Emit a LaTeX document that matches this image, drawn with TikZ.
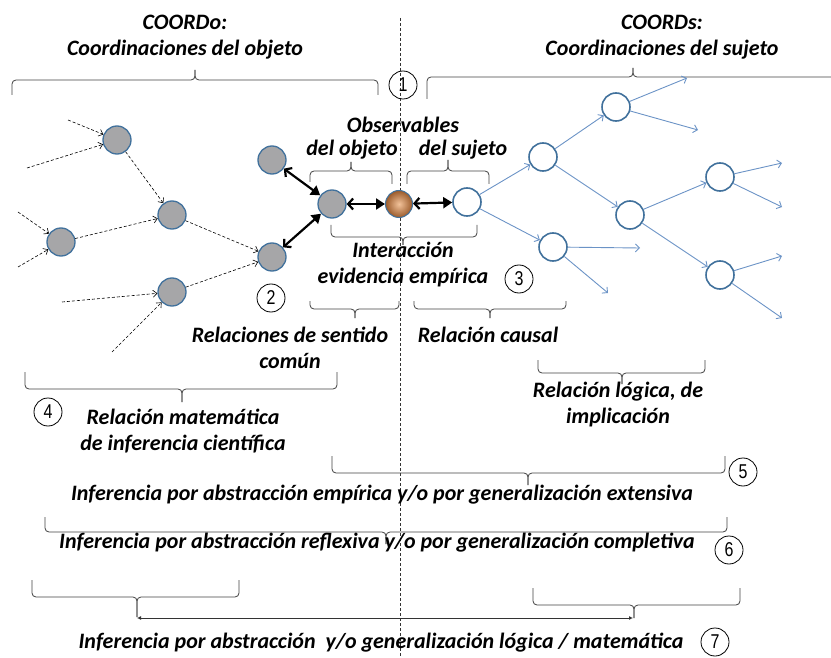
\documentclass[tikz,border=0pt]{standalone}
\usepackage{fontspec}
\setmainfont{Carlito}
\newfontfamily\numfont[FakeStretch=0.8]{Liberation Sans}
\usetikzlibrary{arrows.meta}
\definecolor{nodeblue}{HTML}{41719C}
\definecolor{linkblue}{HTML}{6B93C6}
\definecolor{nodegray}{HTML}{A6A6A8}
\definecolor{evlight}{HTML}{F2C29A}
\definecolor{evdark}{HTML}{9A5A2A}

\begin{document}
\begin{tikzpicture}[
  x=1pt, y=-1pt,
  lbl/.style={font=\fontsize{22}{26}\selectfont\bfseries\itshape, align=center, inner sep=0pt},
  num/.style={draw, circle, line width=0.8pt, minimum size=28pt, inner sep=0pt,
    font=\numfont\fontsize{20}{20}\selectfont},
  objnode/.style={draw=nodeblue, line width=1.3pt, fill=nodegray, circle, minimum size=28pt, inner sep=0pt},
  subjnode/.style={draw=nodeblue, line width=1.6pt, fill=white, circle, minimum size=28pt, inner sep=0pt},
  evnode/.style={draw=nodeblue, line width=1pt, circle, minimum size=27pt, inner sep=0pt,
    inner color=evlight, outer color=evdark},
  dasharr/.style={->, >={Straight Barb[length=4pt,width=7pt]}, dash pattern=on 3pt off 2pt, line width=0.6pt},
  bluearr/.style={->, >={Straight Barb[length=4pt,width=8pt]}, linkblue, line width=0.9pt},
  interarr/.style={{Straight Barb[length=5pt,width=11pt]}-{Triangle[length=9pt,width=11pt]}, line width=2.2pt},
  brace/.style={draw=black!75, line width=0.8pt, rounded corners=4pt}
]
  \useasboundingbox (0,0) rectangle (831,658);

  % dashed axis object / subject
  \coordinate (axtop) at (400,18);
  \coordinate (axbot) at (400,658);
  \draw[dash pattern=on 3pt off 2pt, line width=0.6pt, black!80] (axtop) -- (axbot);

  % headings
  \node[lbl] (coordo) at (185,37) {COORDo:\\Coordinaciones del objeto};
  \node[lbl] (coords) at (662,37) {COORDs:\\Coordinaciones del sujeto};
  \draw[brace] (12,95) |- (195,80) -- (195,70);
  \draw[brace] (378,95) |- (195,80) -- (195,70);
  \draw[brace] (427,99) |- (633,77) -- (633,68);
  \draw[brace] (835,77) -- (633,77) -- (633,68);

  % object side
  \node[objnode] (g1) at (117,140) {};
  \node[objnode] (g2) at (172,215) {};
  \node[objnode] (g3) at (61,242) {};
  \node[objnode] (g4) at (172,292) {};
  \node[objnode] (g5) at (272,160) {};
  \node[objnode] (g6) at (272,257) {};
  \node[objnode] (obj) at (332,204) {};
  \node[evnode] (ev) at (399,204) {};

  \coordinate (in1) at (68,120);
  \coordinate (in2) at (27,168);
  \coordinate (in3) at (18,212);
  \coordinate (in4) at (18,267);
  \coordinate (in5) at (62,302);
  \coordinate (in6) at (112,352);
  \draw[dasharr] (in1) -- (g1);
  \draw[dasharr] (in2) -- (g1);
  \draw[dasharr] (in3) -- (g3);
  \draw[dasharr] (in4) -- (g3);
  \draw[dasharr] (in5) -- (g4);
  \draw[dasharr] (in6) -- (g4);
  \draw[dasharr] (g1) -- (g2);
  \draw[dasharr] (g3) -- (g2);
  \draw[dasharr] (g2) -- (g6);
  \draw[dasharr] (g4) -- (g6);

  % subject side
  \node[subjnode] (w1) at (467,202) {};
  \node[subjnode] (w2) at (543,157) {};
  \node[subjnode] (w3) at (616,107) {};
  \node[subjnode] (w4) at (630,215) {};
  \node[subjnode] (w5) at (553,247) {};
  \node[subjnode] (w6) at (720,177) {};
  \node[subjnode] (w7) at (720,275) {};

  \coordinate (out1) at (687,78);
  \coordinate (out2) at (698,130);
  \coordinate (out3) at (640,248);
  \coordinate (out4) at (608,293);
  \coordinate (out5) at (782,163);
  \coordinate (out6) at (782,207);
  \coordinate (out7) at (782,256);
  \coordinate (out8) at (782,318);
  \draw[bluearr] (w1) -- (w2);
  \draw[bluearr] (w1) -- (w5);
  \draw[bluearr] (w2) -- (w3);
  \draw[bluearr] (w2) -- (w4);
  \draw[bluearr] (w4) -- (w6);
  \draw[bluearr] (w4) -- (w7);
  \draw[bluearr] (w3) -- (out1);
  \draw[bluearr] (w3) -- (out2);
  \draw[bluearr] (w5) -- (out3);
  \draw[bluearr] (w5) -- (out4);
  \draw[bluearr] (w6) -- (out5);
  \draw[bluearr] (w6) -- (out6);
  \draw[bluearr] (w7) -- (out7);
  \draw[bluearr] (w7) -- (out8);

  % interaction
  \draw[interarr] (g5) -- (obj);
  \draw[interarr] (g6) -- (obj);
  \draw[interarr] (obj) -- (ev);
  \draw[interarr] (ev) -- (w1);

  \node[lbl] (observ) at (403,125) {Observables};
  \node[lbl] (delobj) at (352,150) {del objeto};
  \node[lbl] (delsuj) at (463,150) {del sujeto};
  \draw[brace] (310,182) |- (351,171) -- (351,162);
  \draw[brace] (392,184) |- (351,171) -- (351,162);
  \draw[brace] (407,184) |- (448,171) -- (448,160);
  \draw[brace] (489,184) |- (448,171) -- (448,160);
  \draw[brace] (331,225) |- (403,237) -- (403,245);
  \draw[brace] (477,225) |- (403,237) -- (403,245);
  \node[lbl] (interac) at (403,265) {Interacción\\evidencia empírica};

  \node[num] (n1) at (403,85) {1};
  \node[num] (n2) at (271,298) {2};
  \node[num] (n3) at (519,279) {3};

  % relations
  \draw[brace] (310,301) |- (355,309) -- (355,318);
  \draw[brace] (399,301) |- (355,309) -- (355,318);
  \draw[brace] (414,301) |- (490,309) -- (490,318);
  \draw[brace] (566,301) |- (490,309) -- (490,318);
  \node[lbl] (sentido) at (290,348) {Relaciones de sentido\\común};
  \node[lbl] (causal) at (488,335) {Relación causal};

  \draw[brace] (25,372) |- (182,389) -- (182,402);
  \draw[brace] (337,372) |- (182,389) -- (182,402);
  \node[num] (n4) at (48,412) {4};
  \node[lbl] (matem) at (183,431) {Relación matemática\\de inferencia científica};

  \draw[brace] (538,360) |- (622,373) -- (622,384);
  \draw[brace] (705,360) |- (622,373) -- (622,384);
  \node[lbl] (logica) at (618,405) {Relación lógica, de\\implicación};

  % inferences
  \draw[brace] (332,456) |- (528,473) -- (528,485);
  \draw[brace] (725,456) |- (528,473) -- (528,485);
  \node[num] (n5) at (743,472) {5};
  \node[lbl] (inf5) at (382,495) {Inferencia por abstracción empírica y/o por generalización extensiva};

  \draw[brace] (45,517) |- (386,532) -- (386,544);
  \draw[brace] (727,517) |- (386,532) -- (386,544);
  \node[num] (n6) at (729,550) {6};
  \node[lbl] (inf6) at (377,543) {Inferencia por abstracción reflexiva y/o por generalización completiva};

  \draw[brace] (32,580) |- (137,597) -- (137,617);
  \draw[brace] (239,580) |- (137,597) -- (137,617);
  \draw[brace] (533,588) |- (634,605) -- (634,618);
  \draw[brace] (740,588) |- (634,605) -- (634,618);
  \coordinate (tip7a) at (137,618);
  \coordinate (tip7b) at (633,618);
  \draw[{Latex[length=4pt,width=4pt]}-{Latex[length=4pt,width=4pt]}, line width=0.8pt, black!80] (tip7a) -- (tip7b);
  \node[num] (n7) at (715,642) {7};
  \node[lbl] (inf7) at (381,643) {Inferencia por abstracción\ \ y/o generalización lógica / matemática};
\end{tikzpicture}
\end{document}
